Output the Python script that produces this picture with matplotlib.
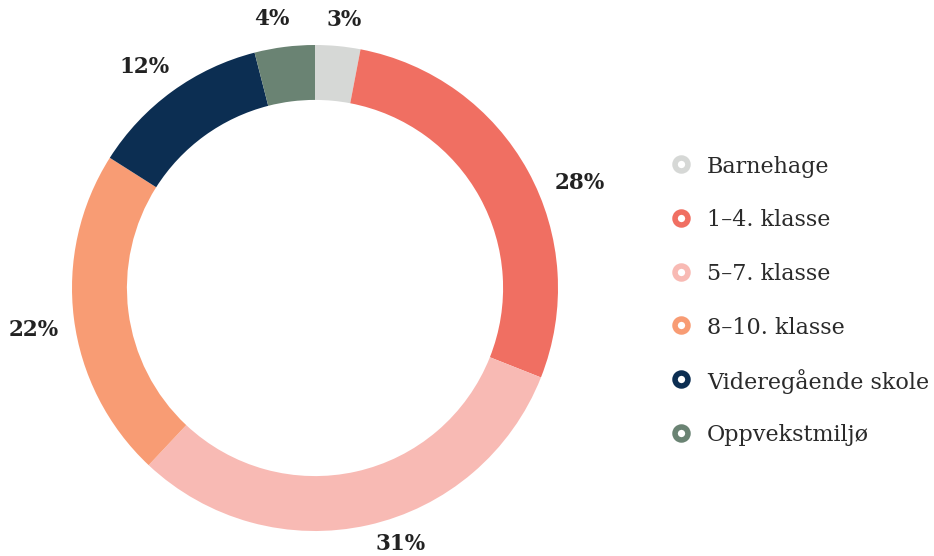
import numpy as np
import matplotlib
matplotlib.use("Agg")
import matplotlib.pyplot as plt

categories = ["Barnehage", "1–4. klasse", "5–7. klasse", "8–10. klasse",
              "Videregående skole", "Oppvekstmiljø"]
values = [3, 28, 31, 22, 12, 4]
labels = ["3%", "28%", "31%", "22%", "12%", "4%"]
colors = ["#D6D8D6", "#F06F62", "#F8BAB4", "#F89C74", "#0C2E52", "#6A8373"]

# label placement tweaks (degrees / radius), style only
angle_nudge = [-0.8, -7.2, 6.0, 1.3, 1.6, 1.9]
label_r = [1.11, 1.17, 1.11, 1.17, 1.15, 1.12]

W, H = 934, 556
fig = plt.figure(figsize=(W / 100, H / 100), dpi=100)
cx, cy, R = 315, 288, 243
ax = fig.add_axes([(cx - R) / W, (H - cy - R) / H, 2 * R / W, 2 * R / H])

wedges, _ = ax.pie(values, colors=colors, startangle=90, counterclock=False,
                   radius=1.0, wedgeprops=dict(width=0.226, edgecolor="none"))
ax.set_xlim(-1, 1)
ax.set_ylim(-1, 1)
ax.set_aspect("equal")
ax.axis("off")

total = sum(values)
cum = 0
for i, v in enumerate(values):
    mid = 90 - (cum + v / 2) / total * 360 + angle_nudge[i]
    cum += v
    a = np.deg2rad(mid)
    ax.text(label_r[i] * np.cos(a), label_r[i] * np.sin(a), labels[i],
            ha="center", va="center", fontsize=15.5, fontweight="bold",
            family="DejaVu Serif", color="#222222", clip_on=False)

# legend drawn in a pixel-coordinate overlay
lax = fig.add_axes([0, 0, 1, 1], zorder=-1)
lax.set_xlim(0, W)
lax.set_ylim(H, 0)
lax.axis("off")
leg_x, leg_y0, leg_dy = 681, 164, 53.8
for i, (c, name) in enumerate(zip(colors, categories)):
    y = leg_y0 + i * leg_dy
    lax.plot([leg_x], [y], marker="o", linestyle="none", markersize=9.3,
             markerfacecolor="white", markeredgecolor=c, markeredgewidth=4.0)
    lax.text(leg_x + 26, y, name, ha="left", va="center_baseline",
             fontsize=16, family="DejaVu Serif", color="#2a2a2a")

fig.savefig("out.png", dpi=100)
